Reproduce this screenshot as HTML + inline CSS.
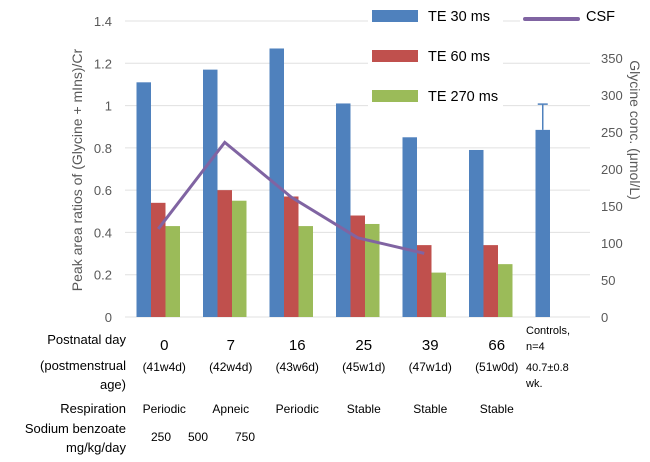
<!DOCTYPE html>
<html><head><meta charset="utf-8"><style>
body{margin:0;background:#fff;}
svg{font-family:"Liberation Sans",sans-serif;}
</style></head><body>
<svg id="chart" width="650" height="457" xmlns="http://www.w3.org/2000/svg"></svg>
<script>
const categories=["0","7","16","25","39","66","Controls"];
const te30=[1.11,1.17,1.27,1.01,0.85,0.79,0.885];
const te60=[0.54,0.60,0.57,0.48,0.34,0.34,null];
const te270=[0.43,0.55,0.43,0.44,0.21,0.25,null];
const csf=[119,236,162,107,86];
const controlErr=1.007;
const leftTicks=[0,0.2,0.4,0.6,0.8,1,1.2,1.4];
const rightTicks=[0,50,100,150,200,250,300,350];
const pma=["(41w4d)","(42w4d)","(43w6d)","(45w1d)","(47w1d)","(51w0d)"];
const resp=["Periodic","Apneic","Periodic","Stable","Stable","Stable"];

const svg=document.getElementById('chart');
const NS="http://www.w3.org/2000/svg";
const x0=125,gw=66.5,bw=14.5,yBase=317;
const yL=v=>yBase-v/1.4*296;
const yR=v=>yBase-v/400*296;
const gc=i=>x0+gw*i+gw/2;
function mk(tag,attrs,txt){const e=document.createElementNS(NS,tag);for(const k in attrs)e.setAttribute(k,attrs[k]);if(txt!=null)e.textContent=txt;svg.appendChild(e);return e;}

leftTicks.forEach((t,i)=>{
  const g=mk('line',{x1:x0,x2:590,y1:yL(t),y2:yL(t),stroke:'#e0e0e0','stroke-width':1});
  
  
  const l=mk('text',{x:112,y:yL(t)+5,'text-anchor':'end','font-size':13,fill:'#595959'},String(t));
  
  
});
rightTicks.forEach(t=>{
  const l=mk('text',{x:601,y:yR(t)+5,'font-size':13,fill:'#595959'},String(t));
  
  
});
const series=[[te30,'#4f81bd'],[te60,'#c0504d'],[te270,'#9bbb59']];
categories.forEach((c,i)=>{
  const cx=gc(i);
  series.forEach((s,j)=>{
    const v=s[0][i]; if(v==null)return;
    const r=mk('rect',{x:cx-1.5*bw+j*bw,y:yL(v),width:bw,height:yBase-yL(v),fill:s[1]});
    
    
  });
});
const ex=gc(6)-bw;
const eb=mk('path',{d:`M${ex} ${yL(te30[6])}V${yL(controlErr)}M${ex-5} ${yL(controlErr)}H${ex+5}`,stroke:'#4f81bd','stroke-width':1.5,fill:'none'});


const pts=csf.map((v,i)=>gc(i)+','+yR(v)).join(' ');
const pl=mk('polyline',{points:pts,fill:'none',stroke:'#8064a2','stroke-width':3});



// legend
[['TE 30 ms','#4f81bd',10],['TE 60 ms','#c0504d',50],['TE 270 ms','#9bbb59',90]].forEach(l=>{
  const bg=mk('rect',{x:368,y:l[2]-6,width:135,height:24,fill:'#fff'});
  
  
  const r=mk('rect',{x:372,y:l[2],width:46,height:12,fill:l[1]});
  
  
  const t=mk('text',{x:428,y:l[2]+11,'font-size':14.5,fill:'#000'},l[0]);
  
  
});
const lbg=mk('rect',{x:520,y:5,width:100,height:24,fill:'#fff'});


const ll=mk('line',{x1:525,x2:578,y1:19,y2:19,stroke:'#8064a2','stroke-width':4,'stroke-linecap':'round'});


const lt=mk('text',{x:586,y:21,'font-size':14.5,fill:'#000'},'CSF');



// axis titles
const yt=mk('text',{x:0,y:0,'font-size':14,fill:'#595959','text-anchor':'middle',transform:'translate(82,170) rotate(-90)'},'Peak area ratios of (Glycine + mIns)/Cr');


const rt=mk('text',{x:0,y:0,'font-size':14,fill:'#595959','text-anchor':'middle',transform:'translate(630,130) rotate(90)'},'Glycine conc. (μmol/L)');



// table labels
function lab(x,y,txt,size,anchor,name){const t=mk('text',{x:x,y:y,'font-size':size,fill:'#000','text-anchor':anchor||'middle'},txt);return t;}
lab(126,344,'Postnatal day',13,'end','row-label-postnatal');
lab(126,370,'(postmenstrual',13,'end','row-label-pma');
lab(126,389,'age)',13,'end','row-label-pma');
lab(126,413,'Respiration',13,'end','row-label-respiration');
lab(126,433,'Sodium benzoate',13,'end','row-label-benzoate');
lab(126,452,'mg/kg/day',13,'end','row-label-benzoate');
categories.slice(0,6).forEach((c,i)=>{
  lab(gc(i)+6,350,c,15,'middle','postnatal-day-label');
  lab(gc(i)+6,371,pma[i],12,'middle','pma-label');
  lab(gc(i)+6,413,resp[i],12,'middle','respiration-label');
});
lab(526,334,'Controls,',11,'start','controls-label');
lab(526,350,'n=4',11,'start','controls-label');
lab(526,371,'40.7±0.8',11,'start','controls-label');
lab(526,387,'wk.',11,'start','controls-label');
lab(161,441,'250',12,'middle','dose-label');
lab(198,441,'500',12,'middle','dose-label');
lab(245,441,'750',12,'middle','dose-label');
</script>
</body></html>
